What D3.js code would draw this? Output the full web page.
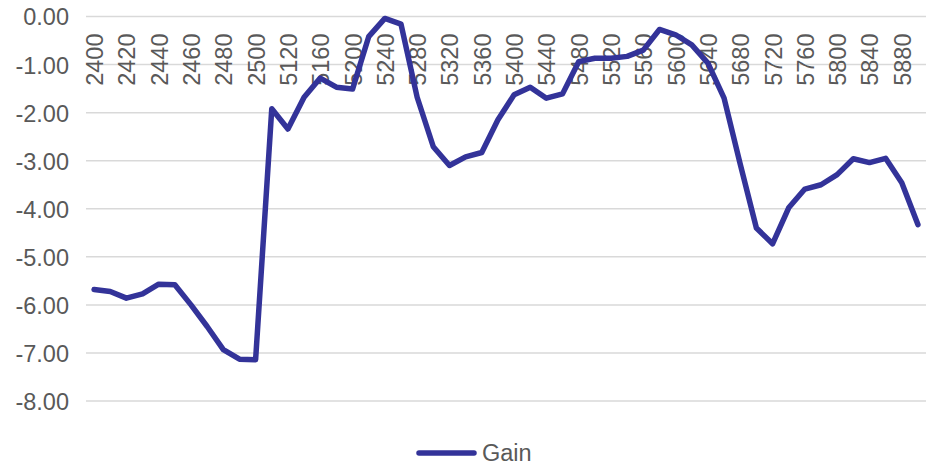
<!DOCTYPE html>
<html>
<head>
<meta charset="utf-8">
<script src="https://cdn.jsdelivr.net/npm/d3@7"></script>
<style>
  body { margin: 0; background: #fff; }
  svg { display: block; }
  text { font-family: "Liberation Sans", Arial, sans-serif; fill: #595959; }
</style>
</head>
<body>
<div id="chart"></div>
<script>
// categories: 2400..2500 step 10, then 5100..5900 step 20
var categories = [
  2400, 2410, 2420, 2430, 2440, 2450, 2460, 2470, 2480, 2490, 2500,
  5100, 5120, 5140, 5160, 5180, 5200, 5220, 5240, 5260, 5280,
  5300, 5320, 5340, 5360, 5380, 5400, 5420, 5440, 5460, 5480,
  5500, 5520, 5540, 5560, 5580, 5600, 5620, 5640, 5660, 5680,
  5700, 5720, 5740, 5760, 5780, 5800, 5820, 5840, 5860, 5880, 5900
];

var gain = [
  -5.68, -5.72, -5.86, -5.77, -5.57, -5.58, -6.00, -6.45, -6.93, -7.13, -7.14,
  -1.92, -2.34, -1.68, -1.28, -1.47, -1.51, -0.42, -0.04, -0.16, -1.68,
  -2.71, -3.10, -2.92, -2.83, -2.15, -1.63, -1.47, -1.70, -1.61, -0.94,
  -0.87, -0.87, -0.83, -0.70, -0.27, -0.38, -0.59, -0.97, -1.70, -3.07,
  -4.40, -4.73, -3.98, -3.59, -3.50, -3.29, -2.96, -3.04, -2.95, -3.46, -4.33
];

var yTicks = [0, -1, -2, -3, -4, -5, -6, -7, -8];
var seriesName = "Gain";

(function () {
  var width = 926,
    height = 466,
    left = 86,
    right = 926,
    top = 16.5,
    bottom = 401,
    fontSize = "23.5px",
    lineColor = "#333399";

  var svg = d3.select("#chart").append("svg")
    .attr("width", width)
    .attr("height", height);

  var x = d3.scalePoint()
    .domain(categories)
    .range([left, right])
    .padding(0.5);

  var y = d3.scaleLinear()
    .domain([-8, 0])
    .range([bottom, top]);

  // gridlines
  svg.append("g")
    .selectAll("line")
    .data(yTicks)
    .enter().append("line")
    .attr("x1", left)
    .attr("x2", right)
    .attr("y1", function (d) { return y(d); })
    .attr("y2", function (d) { return y(d); })
    .attr("stroke", "#d9d9d9")
    .attr("stroke-width", 1.5);

  // y labels
  var yAxis = d3.axisLeft(y)
    .tickValues(yTicks)
    .tickSize(0)
    .tickPadding(0)
    .tickFormat(function (d) { return d.toFixed(2); });

  var gy = svg.append("g")
    .attr("transform", "translate(69,0)")
    .call(yAxis);
  gy.select(".domain").remove();
  gy.attr("font-size", fontSize).attr("font-family", null);
  gy.selectAll("text")
    .attr("fill", "#595959")
    .attr("dy", "0.36em");

  // x labels (axis crosses at 0, labels just under it, rotated)
  var xAxis = d3.axisBottom(x)
    .tickValues(categories.filter(function (d, i) { return i % 2 === 0; }))
    .tickSize(0)
    .tickPadding(0);

  var gx = svg.append("g")
    .attr("transform", "translate(0," + top + ")")
    .call(xAxis);
  gx.select(".domain").remove();
  gx.attr("font-size", fontSize).attr("font-family", null);
  gx.selectAll("text")
    .attr("fill", "#595959")
    .attr("text-anchor", "end")
    .attr("transform", "rotate(-90)")
    .attr("x", -17)
    .attr("y", 0)
    .attr("dy", "0.36em");

  // series line
  var line = d3.line()
    .x(function (d, i) { return x(categories[i]); })
    .y(function (d) { return y(d); });

  svg.append("path")
    .datum(gain)
    .attr("d", line)
    .attr("fill", "none")
    .attr("stroke", lineColor)
    .attr("stroke-width", 5.5)
    .attr("stroke-linejoin", "round")
    .attr("stroke-linecap", "round");

  // legend
  var lg = svg.append("g").attr("transform", "translate(419,453)");
  lg.append("line")
    .attr("x1", 0).attr("x2", 55)
    .attr("stroke", lineColor)
    .attr("stroke-width", 5.5)
    .attr("stroke-linecap", "round");
  lg.append("text")
    .attr("x", 63)
    .attr("dy", "0.36em")
    .attr("font-size", fontSize)
    .text(seriesName);
}());
</script>
</body>
</html>
